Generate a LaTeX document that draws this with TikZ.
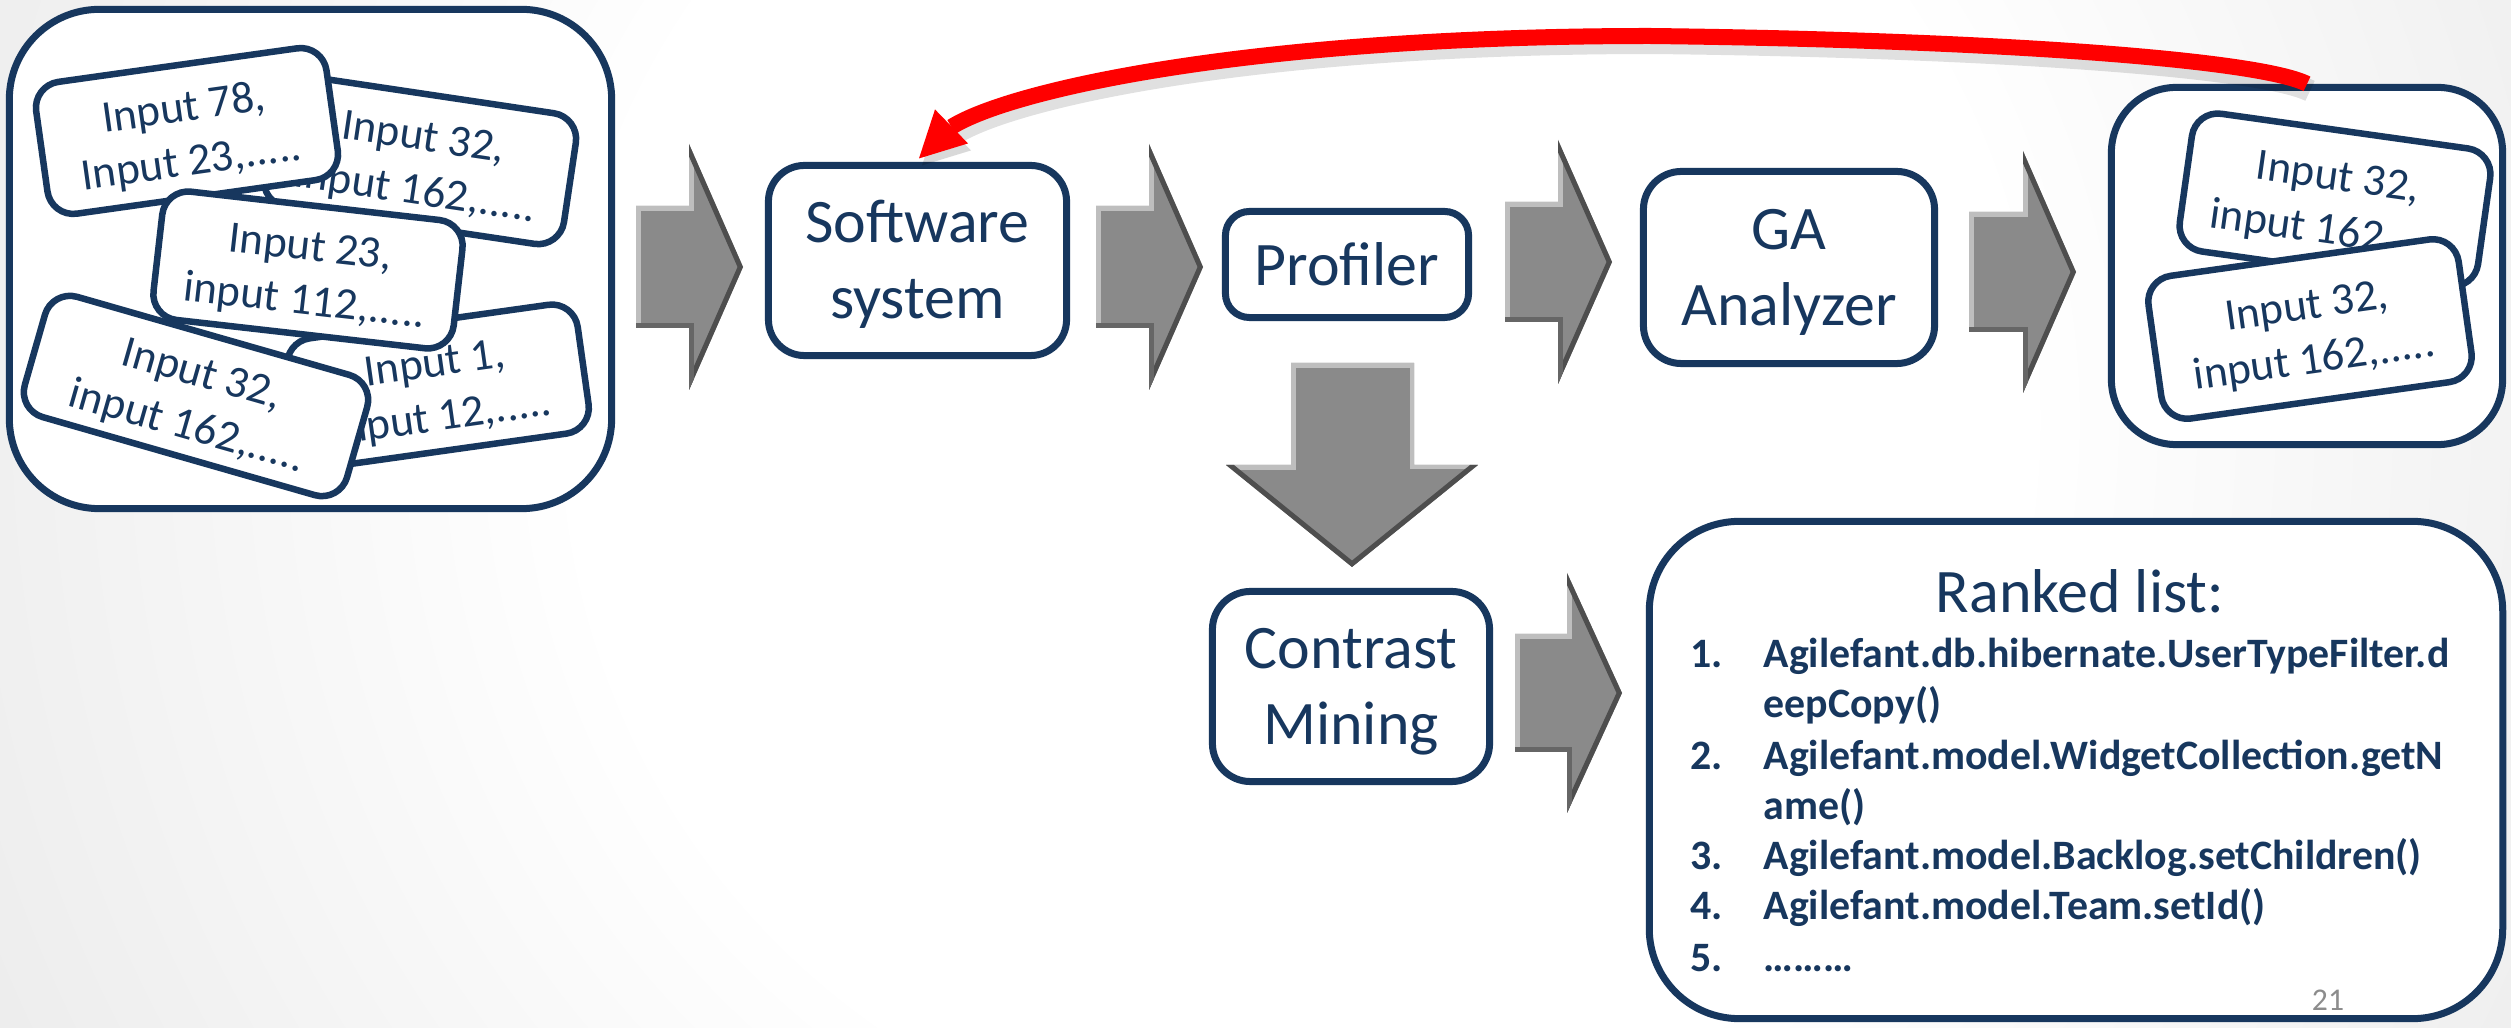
\documentclass[tikz,border=0pt]{standalone}
\usepackage{fontspec}
\setmainfont{Carlito}
\usetikzlibrary{calc}

\definecolor{navy}{RGB}{23,55,94}
\definecolor{arrowgray}{RGB}{138,138,138}
\definecolor{bevellight}{RGB}{190,190,190}
\definecolor{beveldark}{RGB}{78,78,78}
\definecolor{bgmid}{RGB}{232,232,232}
\definecolor{bgedge}{RGB}{206,206,206}
\definecolor{bgcorner}{RGB}{180,180,180}
\definecolor{pagenum}{RGB}{140,140,140}
\definecolor{loopred}{RGB}{255,0,0}

% soft slide background: white centre fading to grey towards the corners
\pgfdeclareradialshading{slidebg}{\pgfpointorigin}{%
  color(0bp)=(white); color(12bp)=(white); color(27bp)=(bgmid);
  color(43bp)=(bgedge); color(47bp)=(bgcorner); color(50bp)=(bgcorner)}

% two-line label with fixed line metrics
\newcommand\twoline[2]{\rule{0pt}{0.58cm}#1\\#2\rule[-0.18cm]{0pt}{0.18cm}}
% two-line card text, set slightly low in its card
\newcommand\cardtext[2]{\rule{0pt}{0.42cm}#1\\#2}

% bevelled block arrow pointing right
% #1 left x, #2 centre y, #3 shaft length, #4 head length,
% #5 shaft half height, #6 head half height
\newcommand\rightblock[6]{%
  \begin{scope}
    \fill[arrowgray] (#1,#2-#5) -- (#1+#3,#2-#5) -- (#1+#3,#2-#6) -- (#1+#3+#4,#2)
      -- (#1+#3,#2+#6) -- (#1+#3,#2+#5) -- (#1,#2+#5) -- cycle;
    \clip (#1,#2-#5) -- (#1+#3,#2-#5) -- (#1+#3,#2-#6) -- (#1+#3+#4,#2)
      -- (#1+#3,#2+#6) -- (#1+#3,#2+#5) -- (#1,#2+#5) -- cycle;
    \draw[bevellight, line width=0.1cm] (#1,#2+#5) -- (#1,#2-#5) -- (#1+#3,#2-#5) -- (#1+#3,#2-#6);
    \draw[beveldark, line width=0.1cm] (#1+#3,#2-#6) -- (#1+#3+#4,#2) -- (#1+#3,#2+#6);
    \draw[beveldark!60!arrowgray, line width=0.1cm] (#1,#2+#5) -- (#1+#3,#2+#5) -- (#1+#3,#2+#6);
  \end{scope}}

\tikzset{
  panel/.style={draw=navy, line width=0.07cm, fill=white, inner sep=0pt},
  stage/.style={panel, text=navy, align=center,
    font=\fontsize{17.6pt}{21.6pt}\selectfont},
  card/.style={draw=navy, line width=0.065cm, fill=white, rounded corners=0.26cm,
    inner sep=0pt, text=navy, align=center,
    font=\fontsize{12.8pt}{15.4pt}\selectfont},
  item/.style={inner sep=0pt, text=navy, anchor=base west,
    font=\fontsize{11.9pt}{14.8pt}\selectfont\bfseries},
}

\begin{document}
\begin{tikzpicture}[x=0.01cm, y=-0.01cm]
\useasboundingbox (0,0) rectangle (2511,1028);

% background
\begin{scope}
  \clip (0,0) rectangle (2511,1028);
  \shade[shading=slidebg] (1300,420) circle (15cm);
\end{scope}

% grey process arrows
\rightblock{636}{267}{53}{54}{61}{123}
\rightblock{1096}{267}{53}{54}{61}{123}
\rightblock{1505}{262}{53}{54}{60}{122}
\rightblock{1969}{272}{54}{53}{60}{121}
\rightblock{1515}{693}{52}{55}{59}{120}

% downward arrow from the profiler to contrast mining
\begin{scope}
  \fill[arrowgray] (1291,363) -- (1414,363) -- (1414,465) -- (1478,465) -- (1352,567)
    -- (1226,465) -- (1291,465) -- cycle;
  \clip (1291,363) -- (1414,363) -- (1414,465) -- (1478,465) -- (1352,567)
    -- (1226,465) -- (1291,465) -- cycle;
  \draw[bevellight, line width=0.1cm] (1226,465) -- (1291,465) -- (1291,363) -- (1414,363);
  \draw[bevellight, line width=0.08cm] (1414,363) -- (1414,465) -- (1478,465);
  \draw[beveldark, line width=0.1cm] (1478,465) -- (1352,567) -- (1226,465);
\end{scope}

% input set
\node[panel, minimum width=6.02cm, minimum height=4.99cm, rounded corners=0.9cm]
  (inputs) at (310.5,259) {};
\node[card, minimum width=3.03cm, minimum height=1.32cm, rotate=-8.5]
  (cardB) at (420,160) {\cardtext{Input 32,}{input 162,.....}};
\node[card, minimum width=2.93cm, minimum height=1.30cm, rotate=8]
  (cardD) at (438,386) {\cardtext{Input 1,}{input 12,.....}};
\node[card, minimum width=2.93cm, minimum height=1.33cm, rotate=8]
  (cardA) at (187,131) {\cardtext{Input 78,}{Input 23,.....}};
\node[card, minimum width=3.35cm, minimum height=1.25cm, rotate=-16]
  (cardE) at (196,396) {\cardtext{Input 32,}{input 162,.....}};
\node[card, minimum width=3.02cm, minimum height=1.29cm, rotate=-6.5]
  (cardC) at (308,270) {\cardtext{Input 23,}{input 112,.....}};

% pipeline stages
\node[stage, minimum width=2.98cm, minimum height=1.90cm, rounded corners=0.36cm]
  (sw) at (917.5,260.5) {\twoline{Software}{system}};
\node[stage, minimum width=2.43cm, minimum height=1.06cm, rounded corners=0.24cm]
  (prof) at (1347,264.5) {Profiler};
\node[stage, minimum width=2.91cm, minimum height=1.92cm, rounded corners=0.38cm]
  (ga) at (1789,267.5) {\twoline{GA}{Analyzer}};
\node[stage, minimum width=2.77cm, minimum height=1.90cm, rounded corners=0.38cm]
  (cm) at (1351,686.5) {\twoline{Contrast}{Mining}};

% selected inputs
\node[panel, minimum width=3.91cm, minimum height=3.57cm, rounded corners=0.65cm]
  (outbox) at (2307,266) {};
\node[card, minimum width=3.01cm, minimum height=1.39cm, rotate=-8]
  (cardF) at (2335,200) {\cardtext{Input 32,}{input 162,.....}};
\node[card, minimum width=3.13cm, minimum height=1.44cm, rotate=8]
  (cardG) at (2310,329) {\cardtext{Input 32,}{input 162,.....}};

% ranked list
\node[panel, minimum width=8.53cm, minimum height=4.97cm, rounded corners=0.9cm]
  (ranked) at (2076,770) {};
\node[anchor=base, inner sep=0pt, text=navy, font=\fontsize{17.6pt}{21.6pt}\selectfont]
  (rtitle) at (2080,613) {Ranked list:};
\node[item] (n1) at (1690,668) {1.};
\node[item] (t1) at (1763,668) {Agilefant.db.hibernate.UserTypeFilter.d};
\node[item] (t1b) at (1763,718) {eepCopy()};
\node[item] (n2) at (1690,770) {2.};
\node[item] (t2) at (1763,770) {Agilefant.model.WidgetCollection.getN};
\node[item] (t2b) at (1763,820) {ame()};
\node[item] (n3) at (1690,870) {3.};
\node[item] (t3) at (1763,870) {Agilefant.model.Backlog.setChildren()};
\node[item] (n4) at (1690,920) {4.};
\node[item] (t4) at (1763,920) {Agilefant.model.Team.setId()};
\node[item] (n5) at (1690,972) {5.};
\node[item] (t5) at (1763,972) {………};
\node[text=pagenum, inner sep=0pt, font=\fontsize{9pt}{11pt}\selectfont]
  (pnum) at (2328,1000) {21};

% feedback loop: selected inputs go back into the software system
\begin{scope}[transform canvas={xshift=0.03cm, yshift=-0.07cm}]
  \draw[black, opacity=0.12, line width=0.22cm]
    (outbox.north) .. controls (2260,60) and (2000,40) .. (1650,36)
    .. controls (1250,36) and (1010,90) .. ($(sw.north)+(34,-35)$);
  \fill[black, opacity=0.15] ($(sw.north)+(1.5,-3.5)$) -- ($(sw.north)+(17.5,-52.5)$)
    -- ($(sw.north)+(50.5,-18.5)$) -- cycle;
\end{scope}
\draw[loopred, line width=0.16cm]
  (outbox.north) .. controls (2260,60) and (2000,40) .. (1650,36)
  .. controls (1250,36) and (1010,90) .. ($(sw.north)+(34,-35)$);
\fill[loopred] ($(sw.north)+(1.5,-3.5)$) -- ($(sw.north)+(17.5,-52.5)$)
  -- ($(sw.north)+(50.5,-18.5)$) -- cycle;
\end{tikzpicture}
\end{document}
